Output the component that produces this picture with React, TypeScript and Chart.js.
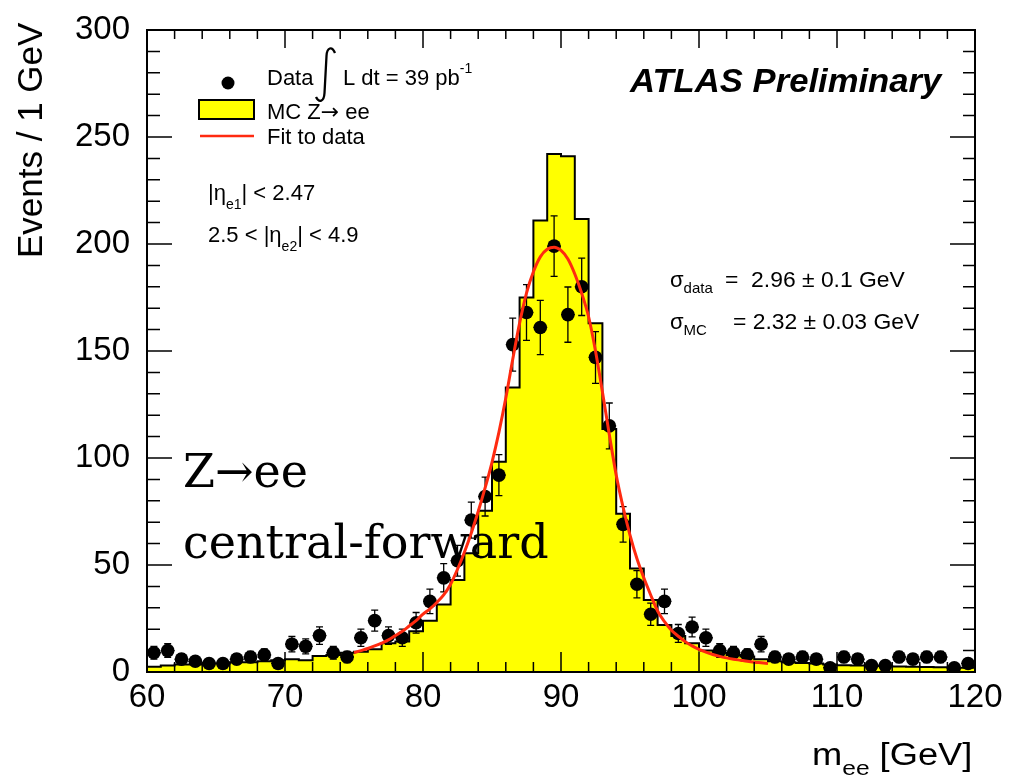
import { useEffect, useRef } from "react"
import { Chart, registerables } from "chart.js"

Chart.register(...registerables)

// data points: bin centres (1 GeV bins) and event counts
const dataX = [
  60.5, 61.5, 62.5, 63.5, 64.5, 65.5, 66.5, 67.5, 68.5, 69.5,
  70.5, 71.5, 72.5, 73.5, 74.5, 75.5, 76.5, 77.5, 78.5, 79.5,
  80.5, 81.5, 82.5, 83.5, 84.5, 85.5, 86.5, 87.5, 88.5, 89.5,
  90.5, 91.5, 92.5, 93.5, 94.5, 95.5, 96.5, 97.5, 98.5, 99.5,
  100.5, 101.5, 102.5, 103.5, 104.5, 105.5, 106.5, 107.5, 108.5, 109.5,
  110.5, 111.5, 112.5, 113.5, 114.5, 115.5, 116.5, 117.5, 118.5, 119.5,
]
const dataCounts = [
  9, 10, 6, 5, 4, 4, 6, 7, 8, 4,
  13, 12, 17, 9, 7, 16, 24, 17, 16, 23,
  33, 44, 52, 71, 82, 92, 153, 168, 161, 199,
  167, 180, 147, 115, 69, 41, 27, 33, 18, 21,
  16, 10, 9, 8, 13, 7, 6, 7, 6, 2,
  7, 6, 3, 3, 7, 6, 7, 7, 2, 4,
]
const dataErrors = [
  3, 3.2, 2.4, 2.2, 2, 2, 2.4, 2.6, 2.8, 2,
  3.6, 3.5, 4.1, 3, 2.6, 4, 4.9, 4.1, 4, 4.8,
  5.7, 6.6, 7.2, 8.4, 9.1, 9.6, 12.4, 13, 12.7, 14.1,
  12.9, 13.4, 12.1, 10.7, 8.3, 6.4, 5.2, 5.7, 4.2, 4.6,
  4, 3.2, 3, 2.8, 3.6, 2.6, 2.4, 2.6, 2.4, 1.4,
  2.6, 2.4, 1.7, 1.7, 2.6, 2.4, 2.6, 2.6, 1.4, 2,
]

// MC Z->ee histogram: lower bin edges and contents
const mcEdges = [
  60, 61, 62, 63, 64, 65, 66, 67, 68, 69,
  70, 71, 72, 73, 74, 75, 76, 77, 78, 79,
  80, 81, 82, 83, 84, 85, 86, 87, 88, 89,
  90, 91, 92, 93, 94, 95, 96, 97, 98, 99,
  100, 101, 102, 103, 104, 105, 106, 107, 108, 109,
  110, 111, 112, 113, 114, 115, 116, 117, 118, 119,
]
const mcCounts = [
  2.5, 3, 3.5, 3.5, 4, 4, 4.5, 4.5, 5, 5.5,
  6, 5.5, 7.5, 8, 9, 9.5, 10.6, 13.4, 14.2, 19,
  24, 31.5, 43, 55.5, 75.4, 98.3, 133, 175, 211, 242,
  241, 211.7, 163, 113.5, 74, 48.4, 33.6, 22, 16.8, 13.4,
  10, 9, 8, 7.2, 6, 5, 4.5, 4.2, 4, 3.5,
  3.2, 3, 3, 2.8, 2.6, 2.5, 2.3, 2.2, 2, 2,
]
const mcUpperEdge = 120

// fit to data
const fitX = [
  75, 75.5, 76, 76.5, 77, 77.5, 78, 78.5, 79, 79.5,
  80, 80.5, 81, 81.5, 82, 82.5, 83, 83.5, 84, 84.5,
  85, 85.5, 86, 86.5, 87, 87.5, 88, 88.5, 89, 89.5,
  90, 90.5, 91, 91.5, 92, 92.5, 93, 93.5, 94, 94.5,
  95, 95.5, 96, 96.5, 97, 97.5, 98, 98.5, 99, 99.5,
  100, 100.5, 101, 101.5, 102, 102.5, 103, 103.5, 104, 104.5, 105,
]
const fitY = [
  9, 10, 11, 12.2, 13.5, 15, 17, 19, 21.5, 24,
  27, 29.5, 32.5, 36, 41, 48, 56, 65, 75, 86,
  98, 112, 128, 146, 163, 177, 187, 194, 197.5, 198.5,
  197, 193, 186, 177, 166, 150, 131, 111, 92, 77,
  64, 53, 44, 36, 28.5, 23.5, 19.5, 16.7, 14.2, 12.2,
  10.6, 9.3, 8.2, 7.3, 6.6, 6, 5.5, 5, 4.6, 4.3, 4,
]

const xMajorTicks = [60, 70, 80, 90, 100, 110, 120]
const yMajorTicks = [0, 50, 100, 150, 200, 250, 300]

const SANS = '"Liberation Sans", Arial, sans-serif'
const SERIF = '"DejaVu Serif", "Liberation Serif", serif'
const YELLOW = "#ffff00"
const RED = "#ff2a10"

type Part = [string, string, number]

// draws text pieces one after another; sx stretches the run horizontally
function drawRun(ctx: CanvasRenderingContext2D, x: number, y: number, parts: Part[], sx = 1) {
  ctx.save()
  ctx.translate(x, y)
  ctx.scale(sx, 1)
  let cx = 0
  for (const [text, font, dy] of parts) {
    ctx.font = font
    ctx.fillText(text, cx, dy)
    cx += ctx.measureText(text).width
  }
  ctx.restore()
}

const rootStyle = {
  id: "rootStyle",
  afterDatasetDraw(chart: any, args: any) {
    if (args.index !== 1) return
    const { ctx, chartArea: a } = chart
    const xs = chart.scales.x
    const ys = chart.scales.y
    ctx.save()
    ctx.beginPath()
    ctx.rect(a.left, a.top, a.right - a.left, a.bottom - a.top)
    ctx.clip()
    ctx.strokeStyle = "#000"
    ctx.lineWidth = 1.3
    dataCounts.forEach((v, i) => {
      const px = xs.getPixelForValue(dataX[i])
      const py = ys.getPixelForValue(v)
      const top = ys.getPixelForValue(v + dataErrors[i])
      const bot = ys.getPixelForValue(Math.max(0, v - dataErrors[i]))
      const l = xs.getPixelForValue(dataX[i] - 0.5)
      const r = xs.getPixelForValue(dataX[i] + 0.5)
      ctx.beginPath()
      ctx.moveTo(px, top)
      ctx.lineTo(px, bot)
      ctx.moveTo(px - 3.5, top)
      ctx.lineTo(px + 3.5, top)
      ctx.moveTo(px - 3.5, bot)
      ctx.lineTo(px + 3.5, bot)
      ctx.moveTo(l, py)
      ctx.lineTo(r, py)
      ctx.stroke()
    })
    ctx.restore()
  },
  afterDraw(chart: any) {
    const { ctx, chartArea: a } = chart
    const xs = chart.scales.x
    const ys = chart.scales.y
    ctx.save()

    // frame and inward ticks
    ctx.strokeStyle = "#000"
    ctx.lineWidth = 1.5
    ctx.beginPath()
    for (let v = 60; v <= 120; v += 2) {
      const major = v % 10 === 0
      const px = xs.getPixelForValue(v)
      ctx.moveTo(px, a.bottom)
      ctx.lineTo(px, a.bottom - (major ? 20 : 10))
      ctx.moveTo(px, a.top)
      ctx.lineTo(px, a.top + (major ? 18 : 9))
    }
    for (let v = 0; v <= 300; v += 10) {
      const major = v % 50 === 0
      const py = ys.getPixelForValue(v)
      ctx.moveTo(a.left, py)
      ctx.lineTo(a.left + (major ? 25 : 13), py)
      ctx.moveTo(a.right, py)
      ctx.lineTo(a.right - (major ? 25 : 12), py)
    }
    ctx.stroke()
    ctx.lineWidth = 2
    ctx.strokeRect(a.left, a.top, a.right - a.left, a.bottom - a.top)

    ctx.fillStyle = "#000"
    ctx.textAlign = "left"
    ctx.textBaseline = "alphabetic"

    // axis titles
    ctx.save()
    ctx.translate(42, 258)
    ctx.rotate(-Math.PI / 2)
    ctx.font = `35px ${SANS}`
    ctx.fillText("Events / 1 GeV", 0, 0)
    ctx.restore()
    drawRun(ctx, 812, 765, [
      ["m", `31px ${SANS}`, 0],
      ["ee", `21px ${SANS}`, 10],
      [" [GeV]", `31px ${SANS}`, 0],
    ], 1.17)

    // legend
    ctx.beginPath()
    ctx.arc(228, 83, 6.5, 0, Math.PI * 2)
    ctx.fill()
    drawRun(ctx, 267, 85, [["Data", `22px ${SANS}`, 0]])
    ctx.lineWidth = 2.3
    ctx.beginPath()
    ctx.moveTo(335, 53)
    ctx.bezierCurveTo(332, 46, 327, 47, 326.5, 56)
    ctx.lineTo(324.5, 93)
    ctx.bezierCurveTo(324, 102, 319, 103, 316, 97)
    ctx.stroke()
    drawRun(ctx, 343, 85, [
      ["L dt = 39 pb", `22px ${SANS}`, 0],
      ["-1", `14px ${SANS}`, -12],
    ])
    ctx.fillStyle = YELLOW
    ctx.fillRect(199, 100, 55, 19)
    ctx.lineWidth = 2
    ctx.strokeRect(199, 100, 55, 19)
    ctx.fillStyle = "#000"
    drawRun(ctx, 267, 119, [
      ["MC Z", `22px ${SANS}`, 0],
      ["\u2192", `22px "DejaVu Sans", sans-serif`, 0],
      [" ee", `22px ${SANS}`, 0],
    ])
    ctx.strokeStyle = RED
    ctx.lineWidth = 2.5
    ctx.beginPath()
    ctx.moveTo(200, 136)
    ctx.lineTo(254, 136)
    ctx.stroke()
    drawRun(ctx, 267, 144, [["Fit to data", `22px ${SANS}`, 0]])

    // cuts
    drawRun(ctx, 208, 200, [
      ["|\u03b7", `22px ${SANS}`, 0],
      ["e1", `14px ${SANS}`, 9],
      ["| < 2.47", `22px ${SANS}`, 0],
    ])
    drawRun(ctx, 208, 242, [
      ["2.5 < |\u03b7", `22px ${SANS}`, 0],
      ["e2", `14px ${SANS}`, 9],
      ["| < 4.9", `22px ${SANS}`, 0],
    ])

    // label and widths
    drawRun(ctx, 630, 92, [["ATLAS Preliminary", `italic bold 33px ${SANS}`, 0]], 1.05)
    drawRun(ctx, 670, 287, [
      ["\u03c3", `22px ${SANS}`, 0],
      ["data", `15px ${SANS}`, 6],
    ])
    drawRun(ctx, 725, 287, [["=  2.96 \u00b1 0.1 GeV", `22px ${SANS}`, 0]], 1.04)
    drawRun(ctx, 670, 329, [
      ["\u03c3", `22px ${SANS}`, 0],
      ["MC", `15px ${SANS}`, 6],
    ])
    drawRun(ctx, 733, 329, [["= 2.32 \u00b1 0.03 GeV", `22px ${SANS}`, 0]], 1.04)

    // channel annotation
    ctx.font = `46px ${SERIF}`
    ctx.fillText("Z\u2192ee", 183, 487)
    ctx.fillText("central-forward", 183, 558)

    ctx.restore()
  },
}

export default function App() {
  const canvasRef = useRef<HTMLCanvasElement>(null)
  const chartRef = useRef<Chart | null>(null)

  useEffect(() => {
    if (!canvasRef.current) return
    if (chartRef.current) chartRef.current.destroy()

    const mcPoints = mcEdges.map((e, i) => ({ x: e, y: mcCounts[i] }))
    mcPoints.push({ x: mcUpperEdge, y: mcCounts[mcCounts.length - 1] })

    const noPadding = (s: any) => {
      s.paddingTop = 0
      s.paddingBottom = 0
      s.paddingLeft = 0
      s.paddingRight = 0
    }

    chartRef.current = new Chart(canvasRef.current, {
      type: "scatter",
      data: {
        datasets: [
          {
            label: "Fit to data",
            data: fitX.map((x, i) => ({ x, y: fitY[i] })),
            showLine: true,
            borderColor: RED,
            borderWidth: 3,
            pointRadius: 0,
            cubicInterpolationMode: "monotone",
            fill: false,
          },
          {
            label: "Data",
            data: dataX.map((x, i) => ({ x, y: dataCounts[i] })),
            showLine: false,
            pointRadius: 6.8,
            pointBackgroundColor: "#000",
            pointBorderWidth: 0,
          },
          {
            label: "MC Z\u2192 ee",
            data: mcPoints,
            showLine: true,
            stepped: "before",
            fill: "origin",
            backgroundColor: YELLOW,
            borderColor: "#000",
            borderWidth: 2,
            pointRadius: 0,
          },
        ],
      } as any,
      options: {
        responsive: false,
        animation: false,
        layout: { padding: { left: 0, top: 30, right: 34, bottom: 0 } },
        scales: {
          x: {
            type: "linear",
            min: 60,
            max: 120,
            afterBuildTicks: (s: any) => {
              s.ticks = xMajorTicks.map((value) => ({ value }))
            },
            afterFit: (s: any) => {
              s.height = 109
              noPadding(s)
            },
            ticks: {
              font: { family: SANS, size: 33 },
              color: "#000",
              padding: 6,
              maxRotation: 0,
              autoSkip: false,
            },
            grid: { display: false, drawTicks: false },
            border: { display: false },
          },
          y: {
            type: "linear",
            min: 0,
            max: 300,
            afterBuildTicks: (s: any) => {
              s.ticks = yMajorTicks.map((value) => ({ value }))
            },
            afterFit: (s: any) => {
              s.width = 147
              noPadding(s)
            },
            ticks: {
              font: { family: SANS, size: 33 },
              color: "#000",
              padding: 17,
              autoSkip: false,
            },
            grid: { display: false, drawTicks: false },
            border: { display: false },
          },
        },
        plugins: {
          legend: { display: false },
          tooltip: { enabled: false },
        },
      },
      plugins: [rootStyle],
    })

    return () => {
      if (chartRef.current) {
        chartRef.current.destroy()
        chartRef.current = null
      }
    }
  }, [])

  return (
    <div style={{ position: "absolute", left: 0, top: 0, width: 1009, height: 781, background: "#fff" }}>
      <canvas ref={canvasRef} width={1009} height={781} style={{ display: "block" }} />
    </div>
  )
}
